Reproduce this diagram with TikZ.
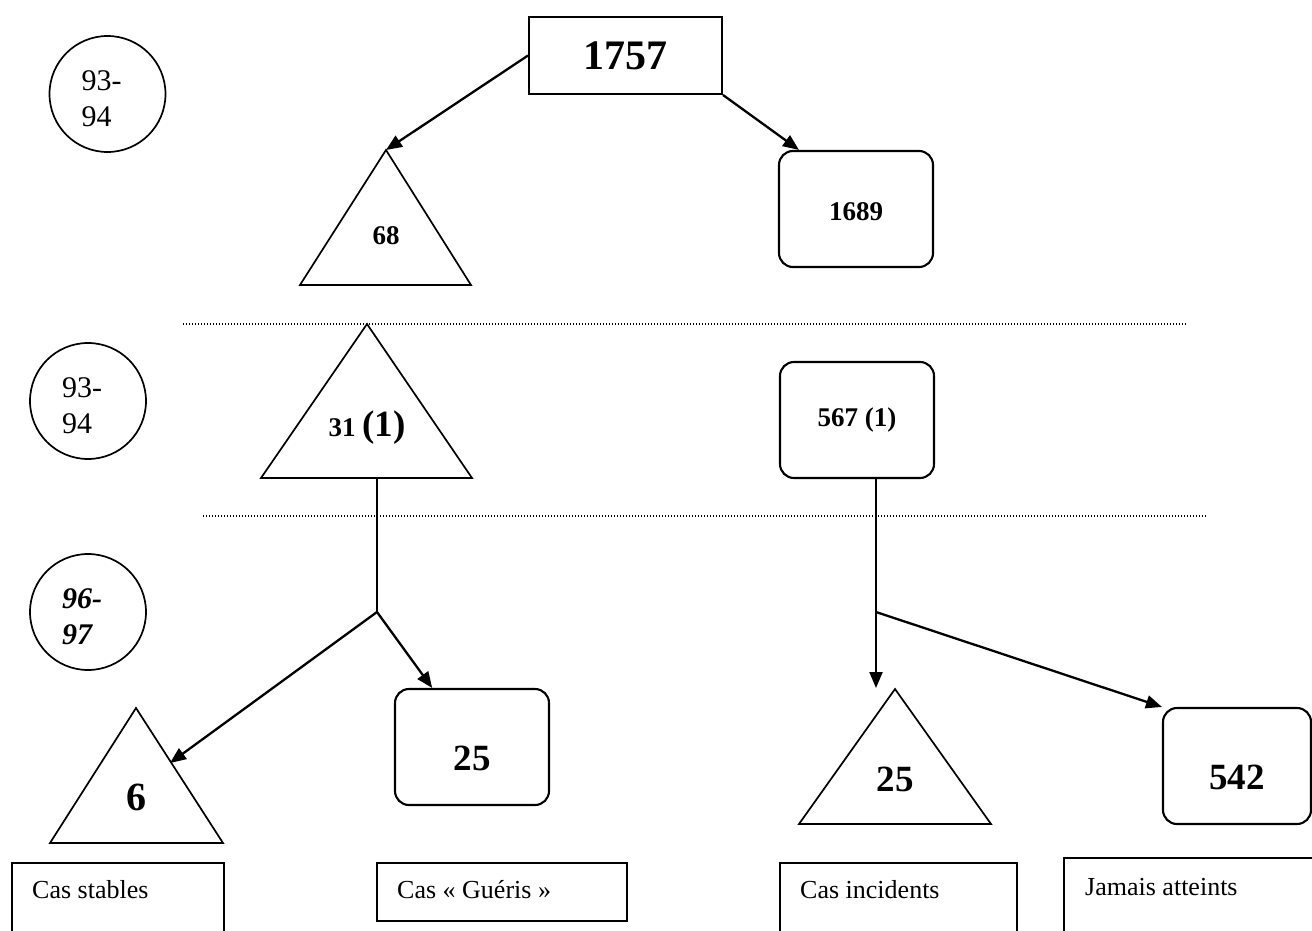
\documentclass[tikz,border=0pt]{standalone}
\usepackage{fontspec}
\setmainfont{Liberation Serif}
\usetikzlibrary{arrows.meta}

\begin{document}
\begin{tikzpicture}[x=1pt, y=-1pt,
	yearcircle/.style={circle, draw=black, line width=1.7pt, minimum size=116pt, inner sep=0pt, text width=52pt, align=left, font=\fontsize{30}{36}\selectfont},
	roundbox/.style={rectangle, rounded corners=14pt, draw=black, line width=2.1pt, minimum width=154pt, minimum height=116pt, inner sep=0pt},
	labelbox/.style={rectangle, draw=black, line width=2pt, anchor=north west, inner sep=0pt},
	labeltext/.style={anchor=base west, inner sep=0pt, font=\fontsize{26}{30}\selectfont},
	tripath/.style={draw=black, line width=1.7pt, line join=miter},
	arr/.style={-{Triangle[length=16pt, width=13pt]}, line width=2.3pt},
	sepline/.style={line width=1.1pt, dash pattern=on 1.1pt off 1.9pt}]
				\useasboundingbox (0,0) rectangle (1312,931);

				\node[yearcircle, text depth=26pt] (year0) at (107.5,94) {93-\\94};
				\node[yearcircle, text depth=26pt] (year1) at (88,401) {93-\\94};
				\node[yearcircle, text depth=26pt, font=\fontsize{30}{36}\selectfont\bfseries\itshape] (year2) at (88,612) {96-\\97};

				\node[rectangle, draw=black, line width=2pt, minimum width=193pt, minimum height=77pt, inner sep=0pt, font=\fontsize{42}{46}\selectfont\bfseries] (top) at (625.5,55.5) {1757};

				\coordinate (tri0) at (386,150);
				\draw[tripath] (tri0) -- (300,285) -- (471,285) -- cycle;
				\node[font=\fontsize{27}{30}\selectfont\bfseries] (num68) at (386,236) {68};
				\node[roundbox, text height=24pt, font=\fontsize{27}{30}\selectfont\bfseries] (box0) at (856,209) {1689};
				\draw[arr] (top.west) -- (tri0);
				\draw[arr] (top.south east) -- (box0.134);

				\coordinate (dot0a) at (183,324);
				\coordinate (dot0b) at (1186,324);
				\draw[sepline] (dot0a) -- (dot0b);
				\coordinate (dot1a) at (203,516);
				\coordinate (dot1b) at (1206,516);
				\draw[sepline] (dot1a) -- (dot1b);

				\coordinate (tri1) at (367,324);
				\draw[tripath] (tri1) -- (261,478) -- (472,478) -- cycle;
				\node[font=\fontsize{27}{30}\selectfont\bfseries] (num31) at (367,428) {31 {\fontsize{37}{40}\selectfont(1)}};
				\node[roundbox, font=\fontsize{27}{30}\selectfont\bfseries] (box1) at (857,420) {567 (1)};

				\coordinate (tri1foot) at (377,478);
				\coordinate (join0) at (377,612);
				\draw[line width=2.1pt] (tri1foot) -- (join0);
				\coordinate (join1) at (876,612);
				\draw[line width=2.1pt] (box1.south -| join1) -- (join1);

				\coordinate (tri2) at (136,708);
				\draw[tripath] (tri2) -- (50,843) -- (223,843) -- cycle;
				\node[font=\fontsize{40}{44}\selectfont\bfseries] (num6) at (136,797) {6};
				\coordinate (tri2side) at (170,763);
				\draw[arr] (join0) -- (tri2side);
				\node[roundbox, text height=47pt, font=\fontsize{37}{40}\selectfont\bfseries] (box2) at (472,747) {25};
				\draw[arr] (join0) -- (box2.124);

				\coordinate (tri3) at (895,689);
				\draw[tripath] (tri3) -- (799,824) -- (991,824) -- cycle;
				\node[font=\fontsize{37}{40}\selectfont\bfseries] (num25) at (895,779) {25};
				\coordinate (tri3tip) at (876,688);
				\draw[arr] (join1) -- (tri3tip);
				\node[roundbox, minimum width=148pt, text height=47pt, font=\fontsize{37}{40}\selectfont\bfseries] (box3) at (1237,766) {542};
				\draw[arr] (join1) -- (box3.north west);

				\node[labelbox, minimum width=212.5pt, minimum height=85pt] (lab0) at (10.5,862) {};
				\node[labeltext] (lab0txt) at (32,898) {Cas stables};
				\node[labelbox, minimum width=250pt, minimum height=58pt] (lab1) at (376,862) {};
				\node[labeltext] (lab1txt) at (397,898) {Cas « Guéris »};
				\node[labelbox, minimum width=237pt, minimum height=85pt] (lab2) at (779,862) {};
				\node[labeltext] (lab2txt) at (800,898) {Cas incidents};
				\node[labelbox, minimum width=260pt, minimum height=90pt] (lab3) at (1063,857) {};
				\node[labeltext] (lab3txt) at (1085,895) {Jamais atteints};
			\end{tikzpicture}
\end{document}
